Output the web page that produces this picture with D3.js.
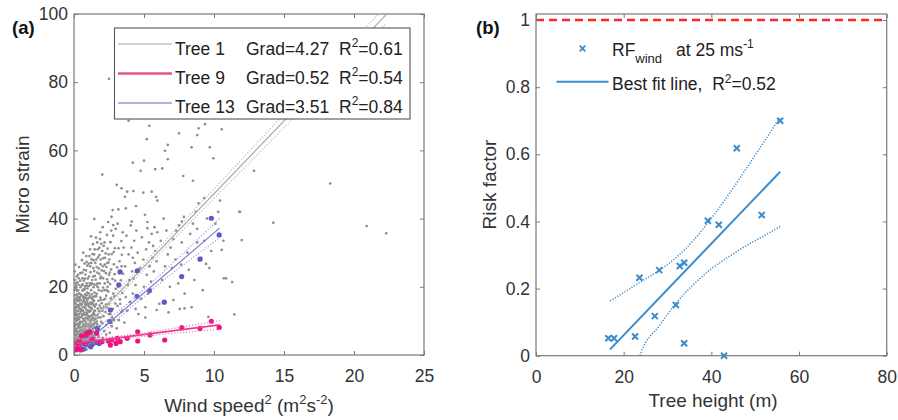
<!DOCTYPE html>
<html><head><meta charset="utf-8">
<script src="https://cdn.jsdelivr.net/npm/d3@7"></script>
<style>
body{margin:0;background:#fff}
svg{display:block}
text{font-family:"Liberation Sans",Arial,Helvetica,sans-serif}
</style>
</head><body>
<svg id="c" width="898" height="420"></svg>
<script>
// ---------------- DATA ----------------
const xTicksA = [0, 5, 10, 15, 20, 25];
const yTicksA = [0, 20, 40, 60, 80, 100];
const xTicksB = [0, 20, 40, 60, 80];
const yTicksB = [0, 0.2, 0.4, 0.6, 0.8, 1];
const yTickLabelsB = ["0", "0.2", "0.4", "0.6", "0.8", "1"];

// Panel (a): Tree 1 (grey) scatter, wind speed^2 vs micro strain
const tree1Sparse = "2.5,81 3.9,68.7 5.38,67.2 7.5,65 8.8,64.5 9.36,67.7 10.55,66.2 8.9,66.5 5.2,63.3 6.7,61.6 6.5,59.9 8.4,60.9 9.7,60.9 9.95,57.7 6.7,57.4 5.0,57 4.2,56.4 5.8,54.5 6.3,54.7 4.76,54 2.02,52.9 7.8,52.5 8.5,51.1 3.05,49.9 3.4,48.9 3.8,47.9 4.24,48.1 4.95,47.6 5.55,47.9 3.64,46.4 5.86,46.4 5.95,45.3 4.43,43.7 2.76,42.5 3.17,42.7 3.7,43 5.07,41.1 1.45,39.9 2.8,38.1 4.12,39.1 5.24,37.2 7.7,39.1 12.86,54 18.3,50.3 10.43,45.3 11.86,42 14.24,38.8 20.9,37.8 22.3,35.7 10.67,33.5 11.98,33.7 10.55,30.8 9.43,26.7 9.67,25.5 10.86,22.5 11.3,21.4 11.45,11.9 9.6,11.2 8.8,37 9.3,33.5";
const tree1Band1 = "0.05,2.1 0.12,3.4 0.2,4.6 0.08,5.8 0.28,6.5 0.15,7.7 0.35,8.4 0.06,9.3 0.22,10.2 0.4,11.1 0.1,12.3 0.3,13.0 0.18,14.2 0.45,15.1 0.04,16.0 0.26,17.2 0.38,18.1 0.14,19.4 0.33,20.6 0.08,22.0 0.42,3.0 0.46,5.1 0.3,2.6 0.48,7.2 0.02,7.0 0.24,8.9 0.44,9.8 0.1,10.8 0.36,12.0 0.2,12.8 0.48,13.5 0.06,14.0 0.3,15.8 0.16,16.6 0.42,17.0 0.22,18.8 0.02,19.0 0.46,19.9 0.12,21.0 0.28,23.5 0.05,24.5 0.36,25.8 0.18,4.0 0.38,4.2 0.1,6.3 0.4,6.0 0.16,11.6 0.26,14.6 0.34,10.5 0.44,21.8";
const tree1Band2 = "0.52,2.8 0.6,4.1 0.72,5.3 0.85,6.2 0.95,7.4 0.55,8.1 0.68,9.0 0.8,9.9 0.92,10.7 0.58,11.5 0.75,12.4 0.88,13.3 0.62,14.1 0.98,14.9 0.7,15.8 0.84,16.7 0.54,17.5 0.93,18.3 0.66,19.2 0.78,20.1 0.9,21.0 0.6,22.5 0.82,23.6 0.7,25.0 0.95,26.2 0.57,27.8 0.88,29.0 0.64,6.7 0.78,7.8 0.9,3.9 0.56,5.6 0.74,3.2 0.97,5.0 0.66,10.6 0.86,11.8 0.52,13.0 0.72,17.1 0.94,16.0 0.6,18.9 0.8,19.5 0.7,21.8 0.98,22.4 0.55,20.4 0.85,8.6 0.63,12.9";
const tree1Band3 = "1.02,3.5 1.1,4.8 1.25,5.9 1.38,6.8 1.45,8.0 1.05,9.1 1.2,10.0 1.35,10.9 1.48,11.8 1.08,12.7 1.28,13.6 1.42,14.5 1.15,15.4 1.32,16.3 1.46,17.2 1.05,18.1 1.22,19.0 1.4,19.9 1.12,21.1 1.3,22.0 1.48,23.2 1.18,24.3 1.38,25.5 1.06,26.8 1.26,28.1 1.44,29.5 1.15,31.0 1.36,32.5 1.22,34.8 1.1,7.2 1.33,7.6 1.47,5.2 1.18,6.3 1.4,12.3 1.12,14.0 1.27,17.8 1.44,20.7 1.02,16.6 1.36,3.8 1.2,11.5 1.5,9.5 1.08,20.2";
const tree1Band4 = "1.52,4.5 1.6,6.1 1.72,7.3 1.85,8.5 1.95,9.7 1.55,10.6 1.68,11.8 1.8,12.9 1.92,13.8 1.58,14.9 1.75,15.9 1.88,16.8 1.62,17.9 1.98,18.8 1.7,19.9 1.84,21.0 1.55,22.1 1.93,23.0 1.66,24.2 1.78,25.4 1.9,26.6 1.6,28.0 1.82,29.3 1.7,31.0 1.95,32.6 1.57,34.4 1.88,36.0 1.75,5.3 1.65,9.0 1.9,11.0 1.6,20.5 1.8,23.8 1.52,27.0 1.98,15.2 1.7,13.6";
const tree1Band5 = "2.05,5.0 2.15,7.0 2.3,8.8 2.42,10.1 2.1,11.4 2.25,12.6 2.38,13.9 2.48,15.0 2.12,16.2 2.3,17.4 2.45,18.6 2.08,19.8 2.2,21.0 2.36,22.2 2.5,23.5 2.15,24.6 2.32,25.8 2.46,27.1 2.1,28.4 2.26,29.8 2.4,31.2 2.18,33.0 2.35,35.2 2.05,37.5 2.44,39.0 2.28,14.8 2.02,9.3 2.4,20.0 2.2,26.5 2.48,12.0 2.3,6.0 2.55,6.5 2.7,8.4 2.85,10.3 2.6,12.0 2.78,13.5 2.95,15.1 2.62,16.6 2.8,18.0 2.98,19.4 2.58,20.8 2.75,22.3 2.9,23.7 2.65,25.1 2.85,26.6 2.52,28.0 2.7,29.6 2.92,31.3 2.6,33.1 2.8,35.0 2.98,37.0 2.68,40.5 2.88,17.2 2.72,11.0 2.94,21.8 2.56,24.2 2.84,30.2 2.66,36.5";
const tree1Band6 = "3.05,7.8 3.2,10.2 3.38,12.6 3.1,14.4 3.28,16.3 3.45,18.2 3.15,20.0 3.35,21.9 3.5,23.8 3.08,25.7 3.25,27.5 3.42,29.4 3.18,31.3 3.38,33.4 3.48,36.0 3.12,38.5 3.3,15.0 3.46,13.0 3.22,24.0 3.4,26.0 3.6,9.5 3.8,13.0 4.0,15.5 4.2,18.0 4.4,20.5 3.7,17.0 3.95,22.0 4.15,24.5 4.35,27.0 3.65,26.0 3.9,29.5 4.1,31.5 4.3,33.5 4.45,36.5 3.75,35.0 4.05,38.0 3.85,20.5 4.25,22.5 4.4,13.5 3.55,31.5 4.2,28.5";
const tree1Band7 = "4.6,12.0 4.8,16.5 5.0,20.0 5.2,23.5 5.4,26.0 5.6,28.5 5.8,30.5 4.7,25.5 4.95,28.0 5.15,31.0 5.35,33.0 5.55,35.5 5.75,37.5 4.85,34.5 5.1,14.0 5.3,18.0 5.5,21.5 5.7,24.5 5.9,27.5 4.55,30.0 5.25,39.0 5.65,32.0 5.95,36.0 6.1,15.0 6.3,22.0 6.5,26.0 6.7,29.5 6.9,31.5 7.1,34.0 7.3,36.5 7.5,38.0 7.7,33.0 6.2,33.5 6.6,36.5 6.85,20.0 7.0,25.5 7.25,28.0 7.45,21.0 7.65,26.5 7.85,40.5 6.4,40.0 7.9,18.0 7.55,13.5 6.75,12.5 7.1,16.1 7.9,13.7 5.9,13.2 5.1,11.0";
const tree1Band8 = "8.1,30.0 8.3,35.5 8.5,38.5 8.7,42.0 8.9,44.5 8.2,25.0 8.6,22.0 9.1,28.5 9.3,46.0 9.5,40.0 8.8,33.0 9.8,30.5 10.1,38.5 10.3,42.0 9.2,19.0 8.4,14.0 10.7,22.5 11.8,42.0";
const tree1Core = "0.03,1.2 0.09,2.8 0.17,1.9 0.25,3.1 0.33,1.5 0.41,2.2 0.49,1.8 0.58,2.0 0.66,3.0 0.8,2.4 0.9,1.6 1.0,2.5 1.15,2.2 1.3,2.7 1.45,3.1 0.07,4.3 0.14,5.2 0.23,5.9 0.31,4.9 0.38,7.1 0.47,4.4 0.55,3.6 0.63,4.9 0.7,6.0 0.77,4.6 0.83,5.4 0.92,6.0 1.0,5.3 1.07,4.1 1.15,5.5 1.23,4.4 1.3,6.1 1.4,4.7 1.48,6.6 0.04,8.2 0.12,9.0 0.2,7.0 0.27,10.8 0.33,9.3 0.42,8.0 0.5,9.6 0.58,7.3 0.65,8.5 0.73,10.2 0.8,7.0 0.87,9.3 0.95,8.4 1.03,10.3 1.1,8.5 1.17,9.6 1.25,8.3 1.33,9.0 1.42,10.3 0.05,11.8 0.13,13.6 0.22,11.5 0.3,11.9 0.38,13.7 0.46,12.6 0.55,14.8 0.62,13.2 0.7,11.8 0.79,13.9 0.86,14.6 0.94,12.1 1.02,13.0 1.1,11.0 1.18,13.0 1.25,14.9 1.34,12.0 1.43,15.9 0.08,15.3 0.2,16.0 0.35,16.6 0.5,16.2 0.65,17.0 0.78,15.0 0.9,17.5 1.05,15.0 1.2,16.8 1.35,15.0 1.5,13.0";
const tree1Core2 = "0.02,3.6 0.11,4.9 0.19,6.9 0.27,5.4 0.35,3.8 0.43,6.8 0.07,8.8 0.16,10.0 0.25,12.0 0.33,14.0 0.41,9.0 0.49,11.0 0.03,13.0 0.12,15.0 0.21,17.8 0.3,19.0 0.39,14.6 0.47,17.8 0.06,17.5 0.15,20.3 0.25,21.3 0.35,22.5 0.45,24.0 0.1,26.5 0.2,23.0 0.02,10.5 0.4,16.0 0.28,8.0 0.12,7.4 0.36,5.0 0.53,4.6 0.61,5.9 0.69,7.4 0.76,8.6 0.84,4.4 0.92,4.9 0.99,6.7 0.52,6.4 0.59,9.7 0.67,11.9 0.75,14.0 0.83,10.9 0.91,12.4 0.99,11.5 0.56,12.0 0.64,15.6 0.72,16.4 0.8,17.8 0.88,15.5 0.96,19.5 0.53,15.0 0.62,20.7 0.7,19.0 0.78,22.4 0.86,24.8 0.94,20.3 0.6,24.2 0.75,26.8 0.9,27.3 0.66,30.0 1.03,6.0 1.11,7.9 1.19,8.8 1.27,10.5 1.35,11.7 1.43,12.9 1.5,14.2 1.06,11.2 1.14,12.8 1.22,13.8 1.3,15.4 1.38,17.0 1.46,18.3 1.04,14.4 1.12,17.3 1.2,20.6 1.28,21.0 1.36,23.0 1.44,24.6 1.08,23.0 1.16,26.0 1.24,27.0 1.32,29.6 1.4,27.8 1.48,31.0 1.1,29.0 1.3,4.5 1.42,8.9 1.53,8.0 1.63,9.8 1.73,11.0 1.83,14.5 1.93,16.2 2.03,13.0 2.13,14.0 2.23,16.5 2.33,19.0 2.43,21.4 1.58,17.2 1.68,21.0 1.78,19.0 1.88,22.5 1.98,24.8 2.08,22.5 2.18,19.0 2.28,24.0 2.38,27.0 2.48,29.5 1.62,25.8 1.72,28.6 1.82,31.5 1.92,28.0 2.02,30.5 2.12,32.0 2.22,28.5 1.66,33.0 1.86,34.0 2.06,26.0";

// Tree 9 (magenta) scatter
const tree9X = [0.14,0.24,0.36,0.48,0.29,0.71,0.86,0.9,1.14,1.31,1.62,1.86,2.0,2.45,2.6,2.7,3.0,3.1,3.3,3.8,4.55,4.55,5.43,6.48,7.7,9.0,9.81,10.37,0.55,1.02];
const tree9Y = [1.5,3.4,3.9,1.5,2.4,3.4,5.9,6.4,6.8,4.6,6.4,3.9,3.9,4.1,2.9,4.4,3.4,4.9,3.9,4.9,4.1,6.8,5.9,4.4,8.0,7.8,9.9,8.1,5.6,6.5];
// Tree 13 (blue) scatter
const tree13X = [0.19,0.36,0.43,0.67,0.86,1.19,1.26,1.62,1.79,1.67,2.57,2.6,3.2,3.29,4.52,4.5,5.4,6.45,7.69,9.0,9.81,10.37,1.14];
const tree13Y = [1.8,2.0,2.4,1.7,3.2,2.4,2.9,3.7,3.4,7.8,9.8,13.2,20.6,24.4,24.7,17.2,18.9,15.5,23.0,28.1,40.1,35.2,3.4];

// Fit lines (x range, y at ends) and confidence bounds
const tree1FitX = [0, 22.3], tree1FitY = [4.6, 99.8];
const tree1BandX = [0, 5, 10, 15, 22.3];
const tree1Upper = [5.6, 26.95, 48.7, 70.65, 102.4];
const tree1Lower = [3.6, 24.95, 45.9, 66.65, 97.2];
const tree9FitX = [0.15, 10.4], tree9FitY = [3.48, 8.81];
const tree9BandX = [0.15, 3, 6, 10.4];
const tree9Upper = [4.4, 5.46, 7.12, 10.1];
const tree9Lower = [2.6, 4.46, 5.92, 7.5];
const tree13FitX = [0.2, 10.4], tree13FitY = [1.4, 37.2];
const tree13BandX = [0.2, 2, 4, 6, 8, 10.4];
const tree13Upper = [3.2, 9.0, 15.7, 23.0, 30.6, 40.0];
const tree13Lower = [-0.4, 6.4, 13.7, 20.6, 27.0, 34.4];

const legendA = [
  {name: "Tree 1", grad: "Grad=4.27", r2: "=0.61"},
  {name: "Tree 9", grad: "Grad=0.52", r2: "=0.54"},
  {name: "Tree 13", grad: "Grad=3.51", r2: "=0.84"}
];

// Panel (b): tree height vs risk factor
const heightB = [16.5, 17.8, 22.6, 23.6, 27.1, 28.1, 31.9, 32.8, 33.8, 33.8, 39.2, 41.7, 42.9, 45.8, 51.5, 55.7];
const riskB   = [0.052, 0.052, 0.057, 0.232, 0.118, 0.255, 0.151, 0.267, 0.277, 0.037, 0.402, 0.390, 0.0, 0.618, 0.419, 0.700];
const fitBX = [16.9, 55.7], fitBY = [0.019, 0.548];
const upperBX = [16.9, 20, 24, 28, 32, 34, 36, 40, 44, 48, 52, 55.7];
const upperBY = [0.163, 0.188, 0.221, 0.253, 0.293, 0.317, 0.345, 0.409, 0.481, 0.558, 0.637, 0.711];
const lowerBX = [23.7, 24, 28, 32, 34, 36, 40, 44, 48, 52, 55.7];
const lowerBY = [0.0, 0.011, 0.087, 0.157, 0.187, 0.213, 0.259, 0.295, 0.328, 0.357, 0.385];
const limitB = 1;

// ---------------- DRAW ----------------
const parse = s => s.trim().split(/\s+/).map(p => p.split(",").map(Number));
const tree1Pts = [tree1Sparse, tree1Band1, tree1Band2, tree1Band3, tree1Band4, tree1Band5, tree1Band6, tree1Band7, tree1Band8, tree1Core, tree1Core2].flatMap(parse);

const svg = d3.select("#c");
const FONT = "\"Liberation Sans\",Arial,sans-serif";
const AX = "#7a7a7a", TXT = "#333";

function frame(g, x, y, xt, yt, yfmt) {
  const [x0, x1] = x.range(), [y0, y1] = y.range();
  g.append("rect").attr("x", x0).attr("y", y1).attr("width", x1 - x0).attr("height", y0 - y1)
    .attr("fill", "none").attr("stroke", AX).attr("stroke-width", 1.2);
  const mk = (axis, tr) => {
    const a = g.append("g").attr("transform", tr).call(axis);
    a.select(".domain").remove();
    a.selectAll("line").attr("stroke", AX).attr("stroke-width", 1);
    a.selectAll("text").attr("fill", TXT).style("font-size", "17.5px").style("font-family", FONT);
    return a;
  };
  mk(d3.axisBottom(x).tickValues(xt).tickSize(-4).tickPadding(15).tickFormat(d3.format("d")), `translate(0,${y0})`);
  mk(d3.axisTop(x).tickValues(xt).tickSize(-4).tickFormat(""), `translate(0,${y1})`);
  mk(d3.axisLeft(y).tickValues(yt).tickSize(-4).tickPadding(6).tickFormat(yfmt), `translate(${x0},0)`);
  mk(d3.axisRight(y).tickValues(yt).tickSize(-4).tickFormat(""), `translate(${x1},0)`);
}

// ----- Panel (a)
const xa = d3.scaleLinear().domain([0, 25]).range([74, 424]);
const ya = d3.scaleLinear().domain([0, 100]).range([355, 14]);
const ga = svg.append("g");
svg.append("clipPath").attr("id", "clipA").append("rect").attr("x", 74).attr("y", 14).attr("width", 350).attr("height", 341);
const pa = ga.append("g").attr("clip-path", "url(#clipA)");

pa.append("g").selectAll("circle").data(tree1Pts).join("circle")
  .attr("cx", d => xa(d[0])).attr("cy", d => ya(d[1])).attr("r", 1.35).attr("fill", "#8f8f8f");

const lineA = d3.line().x(d => xa(d[0])).y(d => ya(d[1]));
const lineAc = d3.line().x(d => xa(d[0])).y(d => ya(d[1])).curve(d3.curveMonotoneX);
function fitA(fx, fy, bx, up, lo, col, w, dcol) {
  pa.append("path").attr("d", lineAc(bx.map((v, i) => [v, up[i]]))).attr("fill", "none")
    .attr("stroke", dcol).attr("stroke-width", 1.2).attr("stroke-dasharray", "1,2");
  pa.append("path").attr("d", lineAc(bx.map((v, i) => [v, lo[i]]))).attr("fill", "none")
    .attr("stroke", dcol).attr("stroke-width", 1.2).attr("stroke-dasharray", "1,2");
  pa.append("path").attr("d", lineA(fx.map((v, i) => [v, fy[i]]))).attr("fill", "none")
    .attr("stroke", col).attr("stroke-width", w);
}
fitA(tree1FitX, tree1FitY, tree1BandX, tree1Upper, tree1Lower, "#a9a9a9", 1.2, "#b0b0b0");

pa.append("g").selectAll("circle").data(tree13X.map((v, i) => [v, tree13Y[i]])).join("circle")
  .attr("cx", d => xa(d[0])).attr("cy", d => ya(d[1])).attr("r", 2.6).attr("fill", "#5a5ac2");
fitA(tree13FitX, tree13FitY, tree13BandX, tree13Upper, tree13Lower, "#7f7fd2", 1.2, "#8c8cd6");

pa.append("g").selectAll("circle").data(tree9X.map((v, i) => [v, tree9Y[i]])).join("circle")
  .attr("cx", d => xa(d[0])).attr("cy", d => ya(d[1])).attr("r", 2.6).attr("fill", "#e8157f");
fitA(tree9FitX, tree9FitY, tree9BandX, tree9Upper, tree9Lower, "#ee3c8e", 1.8, "#f06aa6");

frame(ga, xa, ya, xTicksA, yTicksA, d3.format("d"));

// legend (a)
const lg = ga.append("g");
lg.append("rect").attr("x", 114.5).attr("y", 28).attr("width", 295.5).attr("height", 91)
  .attr("fill", "#fff").attr("stroke", "#555").attr("stroke-width", 1.1);
const legCols = ["#c4c4c4", "#e0558f", "#9a9ad6"];
const legW = [1.5, 2.5, 1.5];
legendA.forEach((d, i) => {
  const ly = 44 + i * 29.5, by = 54.5 + i * 29;
  lg.append("line").attr("x1", 118).attr("x2", 172).attr("y1", ly).attr("y2", ly)
    .attr("stroke", legCols[i]).attr("stroke-width", legW[i]);
  const t = lg.append("text").attr("y", by).attr("fill", "#222").style("font-size", "17.5px");
  t.append("tspan").attr("x", 175).text(d.name);
  t.append("tspan").attr("x", 246).text(d.grad);
  t.append("tspan").attr("x", 339).text("R");
  t.append("tspan").attr("dy", -7.5).style("font-size", "12px").text("2");
  t.append("tspan").attr("dy", 7.5).text(d.r2);
});

// labels (a)
ga.append("text").attr("transform", "translate(29,184.5) rotate(-90)").attr("text-anchor", "middle")
  .attr("fill", TXT).style("font-size", "19px").text("Micro strain");
const xl = ga.append("text").attr("x", 249).attr("y", 412).attr("text-anchor", "middle")
  .attr("fill", TXT).style("font-size", "19px");
xl.append("tspan").text("Wind speed");
xl.append("tspan").attr("dy", -8).style("font-size", "13px").text("2");
xl.append("tspan").attr("dy", 8).text("\u00a0(m");
xl.append("tspan").attr("dy", -8).style("font-size", "13px").text("2");
xl.append("tspan").attr("dy", 8).text("s");
xl.append("tspan").attr("dy", -8).style("font-size", "13px").text("-2");
xl.append("tspan").attr("dy", 8).text(")");
ga.append("text").attr("x", 12).attr("y", 34).attr("fill", "#111").style("font-size", "18.5px")
  .style("font-weight", "bold").text("(a)");

// ----- Panel (b)
const xb = d3.scaleLinear().domain([0, 80]).range([536, 886.7]);
const yb = d3.scaleLinear().domain([0, 1.018]).range([355.7, 14]);
const gb = svg.append("g");
svg.append("clipPath").attr("id", "clipB").append("rect").attr("x", 536).attr("y", 14).attr("width", 350.7).attr("height", 341.7);
const pb = gb.append("g").attr("clip-path", "url(#clipB)");
const BLUE = "#3a8ccd";
const lineB = d3.line().x(d => xb(d[0])).y(d => yb(d[1]));
const lineBc = d3.line().x(d => xb(d[0])).y(d => yb(d[1])).curve(d3.curveMonotoneX);

pb.append("path").attr("d", lineB([[0, limitB], [80, limitB]])).attr("stroke", "#ff2525")
  .attr("stroke-width", 2.6).attr("stroke-dasharray", "8,5").attr("fill", "none");
pb.append("path").attr("d", lineBc(upperBX.map((v, i) => [v, upperBY[i]]))).attr("fill", "none")
  .attr("stroke", BLUE).attr("stroke-width", 1.5).attr("stroke-dasharray", "1.2,1.6");
pb.append("path").attr("d", lineBc(lowerBX.map((v, i) => [v, lowerBY[i]]))).attr("fill", "none")
  .attr("stroke", BLUE).attr("stroke-width", 1.5).attr("stroke-dasharray", "1.2,1.6");
pb.append("path").attr("d", lineB(fitBX.map((v, i) => [v, fitBY[i]]))).attr("fill", "none")
  .attr("stroke", BLUE).attr("stroke-width", 2);

const xm = "M-3,-3L3,3M-3,3L3,-3";
gb.append("g").selectAll("path").data(heightB.map((v, i) => [v, riskB[i]])).join("path")
  .attr("transform", d => `translate(${xb(d[0])},${yb(d[1])})`).attr("d", xm)
  .attr("stroke", BLUE).attr("stroke-width", 2).attr("fill", "none");

frame(gb, xb, yb, xTicksB, yTicksB, (d, i) => yTickLabelsB[i]);

// legend (b)
gb.append("path").attr("transform", "translate(582.5,48.5)").attr("d", "M-2.8,-2.8L2.8,2.8M-2.8,2.8L2.8,-2.8")
  .attr("stroke", BLUE).attr("stroke-width", 1.8).attr("fill", "none");
const l1 = gb.append("text").attr("x", 612).attr("y", 56).attr("fill", "#222").style("font-size", "17.5px");
l1.append("tspan").text("RF");
l1.append("tspan").attr("dy", 7).style("font-size", "13px").text("wind");
l1.append("tspan").attr("x", 676).attr("dy", -7).text("at 25 ms");
l1.append("tspan").attr("dy", -8).style("font-size", "12px").text("-1");
gb.append("line").attr("x1", 556.5).attr("x2", 608.5).attr("y1", 81.7).attr("y2", 81.7)
  .attr("stroke", BLUE).attr("stroke-width", 2);
const l2 = gb.append("text").attr("x", 612).attr("y", 90).attr("fill", "#222").style("font-size", "17.5px");
l2.append("tspan").text("Best fit line,\u00a0\u00a0R");
l2.append("tspan").attr("dy", -7.5).style("font-size", "12px").text("2");
l2.append("tspan").attr("dy", 7.5).text("=0.52");

gb.append("text").attr("transform", "translate(496,184.5) rotate(-90)").attr("text-anchor", "middle")
  .attr("fill", TXT).style("font-size", "19px").text("Risk factor");
gb.append("text").attr("x", 713).attr("y", 407).attr("text-anchor", "middle")
  .attr("fill", TXT).style("font-size", "19px").text("Tree height (m)");
gb.append("text").attr("x", 476).attr("y", 34).attr("fill", "#111").style("font-size", "18.5px")
  .style("font-weight", "bold").text("(b)");
</script>
</body></html>
